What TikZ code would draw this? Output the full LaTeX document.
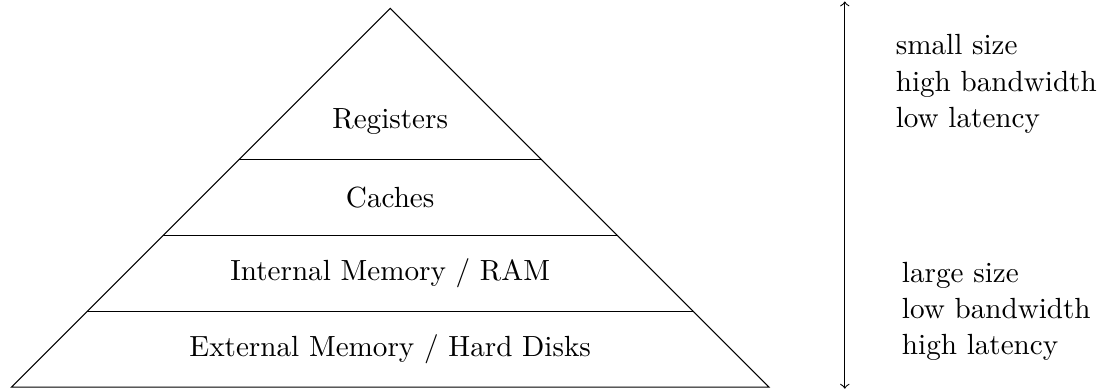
\documentclass[tikz,border=0pt,11pt]{standalone}
\begin{document}
\begin{tikzpicture}
	\useasboundingbox (-5.15,-0.04) rectangle (9.54,5.11);
	\draw (-5,0)--(5,0)--(0,5)--cycle;
	\foreach \y in {1,2,3}{
		\draw (-5+\y,\y)--(5-\y,\y);
	}
	\node (reg) at (0,3.5){Registers};
	\node (cache) at (0,2.5){Caches};
	\node (ram) at (0,1.5){Internal Memory / RAM};
	\node (disk) at (0,0.5){External Memory / Hard Disks};
	\coordinate (top) at (6,5.09);
	\coordinate (bot) at (6,-0.02);
	\draw[<->] (bot)--(top);
	\node[align=left] (fast) at (8,4){small size\\high bandwidth\\low latency};
	\node[align=left] (slow) at (8,1){large size\\low bandwidth\\high latency};
\end{tikzpicture}
\end{document}
